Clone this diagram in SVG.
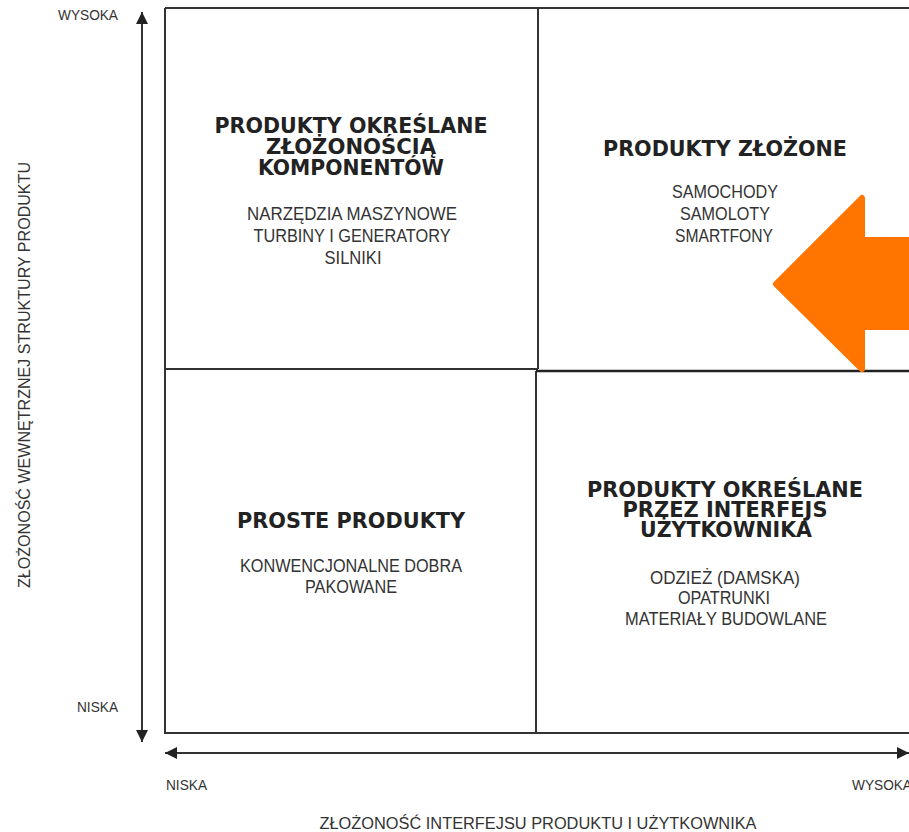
<svg xmlns="http://www.w3.org/2000/svg" width="909" height="832" viewBox="0 0 909 832">
<defs>
<style>
.t{font-family:"DejaVu Sans","Liberation Sans",sans-serif;font-weight:bold;font-size:21px;fill:#222;text-anchor:middle}
.b{font-family:"Liberation Sans Narrow","Liberation Sans",sans-serif;font-size:18px;fill:#333;text-anchor:middle}
.s{font-family:"Liberation Sans Narrow","Liberation Sans",sans-serif;font-size:14px;fill:#333}
.ax{font-family:"Liberation Sans Narrow","Liberation Sans",sans-serif;font-size:16px;fill:#333;text-anchor:middle}
.ln{stroke:#333;stroke-width:2;fill:none}
</style>
<marker id="ah" viewBox="0 0 10 10" refX="10" refY="5" markerWidth="6" markerHeight="6" markerUnits="strokeWidth" orient="auto">
<path d="M0,0 L10,5 L0,10 z" fill="#222"/>
</marker>
</defs>
<rect width="909" height="832" fill="#fff"/>
<g id="connectors">
<line class="ln" x1="142" y1="370" x2="142" y2="12" marker-end="url(#ah)"/>
<line class="ln" x1="142" y1="370" x2="142" y2="742" marker-end="url(#ah)"/>
<line class="ln" x1="540" y1="753" x2="165" y2="753" marker-end="url(#ah)"/>
<line class="ln" x1="540" y1="753" x2="909" y2="753" marker-end="url(#ah)"/>
</g>
<g id="frame">
<path class="ln" d="M165,8 H912 M165,8 V733 H912 M538,8 V369 M536,371 V733 M165,369 H538"/>
<line x1="536" y1="371" x2="912" y2="371" stroke="#222" stroke-width="2.6"/>
</g>
<g id="q-tl">
<text class="t" x="351" y="133" textLength="273" lengthAdjust="spacingAndGlyphs">PRODUKTY OKREŚLANE</text>
<text class="t" x="351" y="154" textLength="170" lengthAdjust="spacingAndGlyphs">ZŁOŻONOŚCIĄ</text>
<text class="t" x="351" y="175" textLength="186" lengthAdjust="spacingAndGlyphs">KOMPONENTÓW</text>
<text class="b" x="352" y="220" textLength="210" lengthAdjust="spacingAndGlyphs">NARZĘDZIA MASZYNOWE</text>
<text class="b" x="352" y="242" textLength="197" lengthAdjust="spacingAndGlyphs">TURBINY I GENERATORY</text>
<text class="b" x="353" y="264" textLength="57" lengthAdjust="spacingAndGlyphs">SILNIKI</text>
</g>
<g id="q-tr">
<text class="t" x="725" y="156" textLength="244" lengthAdjust="spacingAndGlyphs">PRODUKTY ZŁOŻONE</text>
<text class="b" x="725" y="198" textLength="106" lengthAdjust="spacingAndGlyphs">SAMOCHODY</text>
<text class="b" x="725" y="220" textLength="90" lengthAdjust="spacingAndGlyphs">SAMOLOTY</text>
<text class="b" x="724" y="242" textLength="98" lengthAdjust="spacingAndGlyphs">SMARTFONY</text>
</g>
<g id="q-bl">
<text class="t" x="351" y="528" textLength="228" lengthAdjust="spacingAndGlyphs">PROSTE PRODUKTY</text>
<text class="b" x="351" y="572" textLength="222" lengthAdjust="spacingAndGlyphs">KONWENCJONALNE DOBRA</text>
<text class="b" x="351" y="593" textLength="92" lengthAdjust="spacingAndGlyphs">PAKOWANE</text>
</g>
<g id="q-br">
<text class="t" x="725" y="497" textLength="276" lengthAdjust="spacingAndGlyphs">PRODUKTY OKREŚLANE</text>
<text class="t" x="725" y="517" textLength="205" lengthAdjust="spacingAndGlyphs">PRZEZ INTERFEJS</text>
<text class="t" x="726" y="537" textLength="172" lengthAdjust="spacingAndGlyphs">UŻYTKOWNIKA</text>
<text class="b" x="725" y="584" textLength="150" lengthAdjust="spacingAndGlyphs">ODZIEŻ (DAMSKA)</text>
<text class="b" x="724" y="604" textLength="92" lengthAdjust="spacingAndGlyphs">OPATRUNKI</text>
<text class="b" x="726" y="625" textLength="202" lengthAdjust="spacingAndGlyphs">MATERIAŁY BUDOWLANE</text>
</g>
<g id="axis-labels">
<text class="s" x="58" y="20" textLength="60" lengthAdjust="spacingAndGlyphs">WYSOKA</text>
<text class="s" x="77" y="712" textLength="41" lengthAdjust="spacingAndGlyphs">NISKA</text>
<text class="s" x="166" y="790" textLength="41" lengthAdjust="spacingAndGlyphs">NISKA</text>
<text class="s" x="852" y="790" textLength="60" lengthAdjust="spacingAndGlyphs">WYSOKA</text>
<text class="ax" x="538" y="829" textLength="437" lengthAdjust="spacingAndGlyphs">ZŁOŻONOŚĆ INTERFEJSU PRODUKTU I UŻYTKOWNIKA</text>
<text class="ax" transform="translate(30,375) rotate(-90)" x="0" y="0" textLength="426" lengthAdjust="spacingAndGlyphs">ZŁOŻONOŚĆ WEWNĘTRZNEJ STRUKTURY PRODUKTU</text>
</g>
<g id="orange-arrow">
<polygon points="776,284 862,198 862,240 915,240 915,327 862,327 862,369" fill="#FF7500" stroke="#FF7500" stroke-width="6" stroke-linejoin="round"/>
</g>
</svg>
